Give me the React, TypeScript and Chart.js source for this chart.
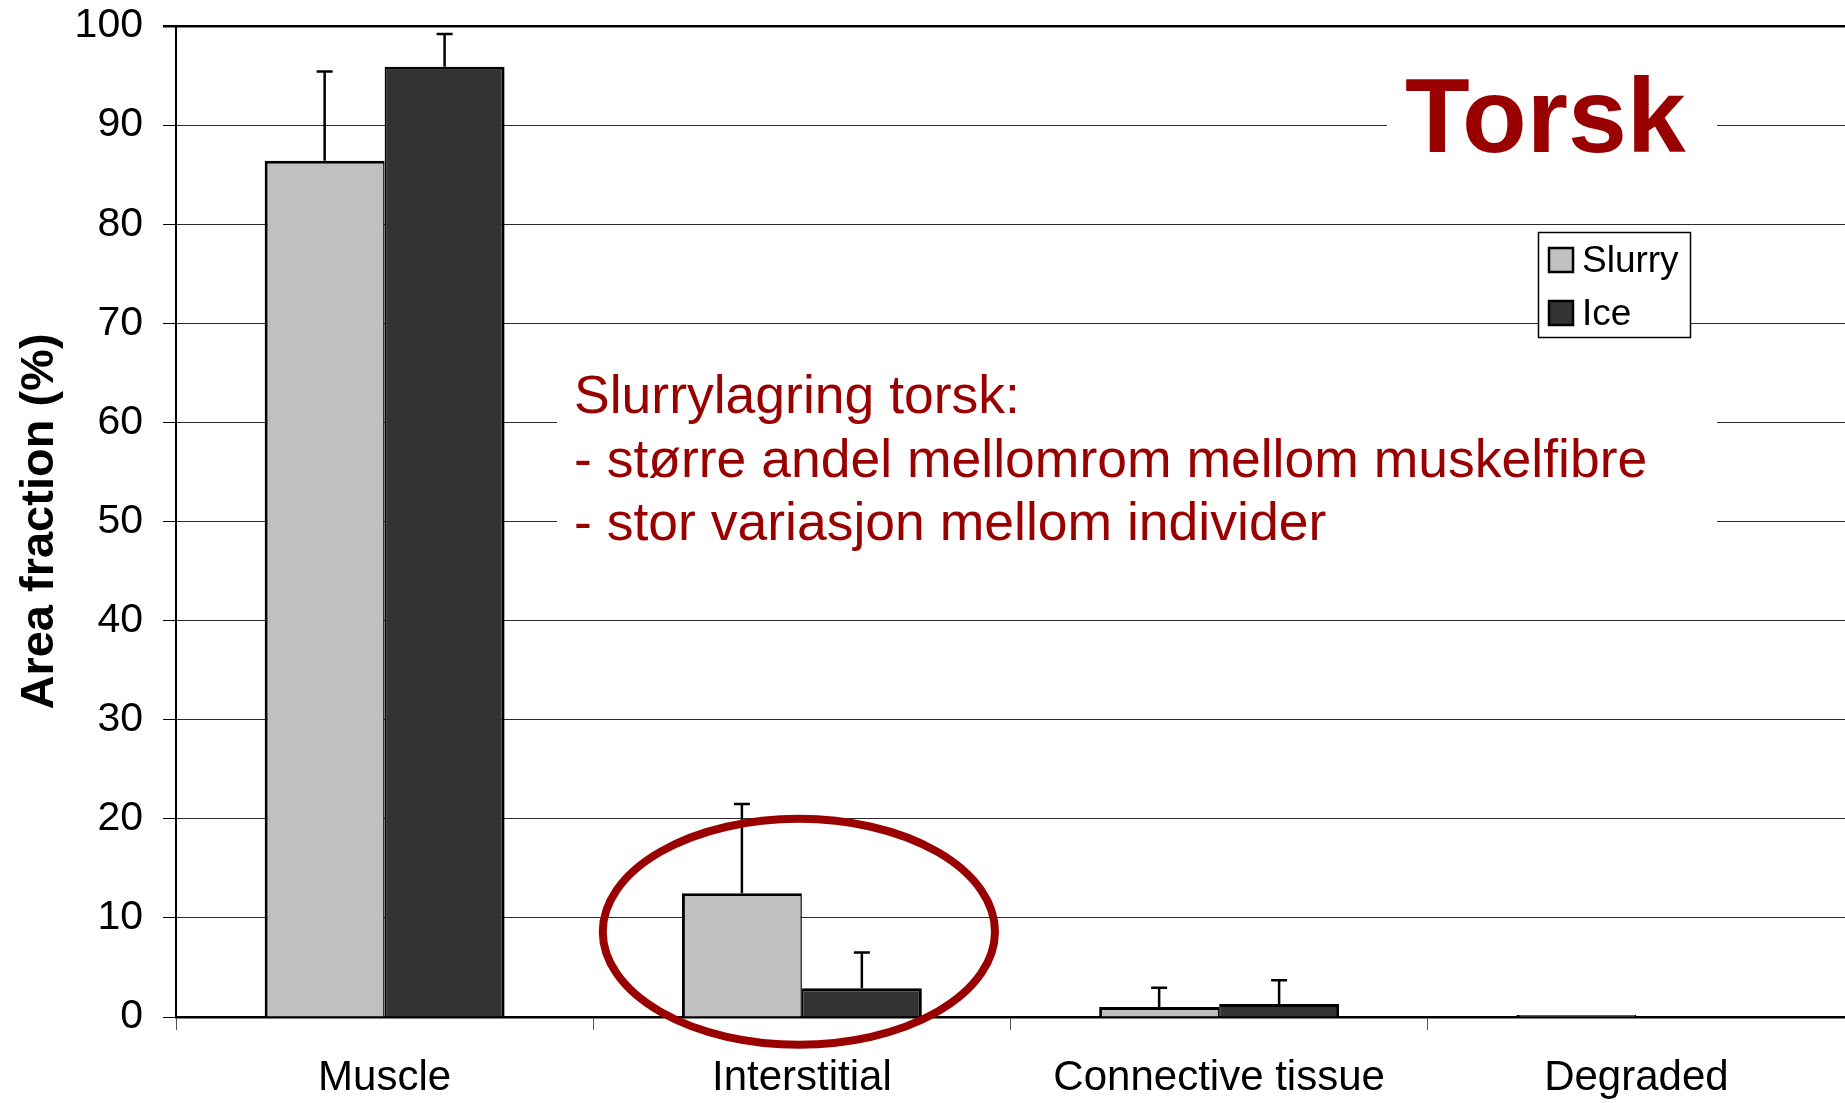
import React, { useEffect, useRef } from 'react';
import { Chart, registerables } from 'chart.js';

Chart.register(...registerables);

const categories = ['Muscle', 'Interstitial', 'Connective tissue', 'Degraded'];
const seriesLabels = ['Slurry', 'Ice'];
const slurryValues = [86.4, 12.5, 1.0, 0.2];
const iceValues = [95.9, 2.9, 1.3, 0];
const slurryErrors = [9.0, 9.0, 1.95, 0];
const iceErrors = [3.3, 3.6, 2.4, 0];
const seriesColors = ['#C0C0C0', '#333333'];
const chartTitle = 'Torsk';
const noteLines = [
  'Slurrylagring torsk:',
  '- større andel mellomrom mellom muskelfibre',
  '- stor variasjon mellom individer',
];
const yAxisTitle = 'Area fraction (%)';
const highlightCategory = 1;

const FONT = '"Liberation Sans", Arial, sans-serif';
const RED = '#990000';

const overlayPlugin = {
  id: 'overlay',
  beforeDatasetsDraw(chart: any) {
    const ctx = chart.ctx;
    ctx.save();
    ctx.fillStyle = '#ffffff';
    ctx.fillRect(1387, 50, 330, 150);
    ctx.fillRect(557, 345, 1160, 230);
    ctx.restore();
  },
  afterDatasetsDraw(chart: any) {
    const ctx = chart.ctx;
    const yScale = chart.scales.y;
    const xScale = chart.scales.x;
    const errs = [slurryErrors, iceErrors];
    ctx.save();
    // error bars
    ctx.strokeStyle = '#000';
    ctx.lineWidth = 2.5;
    chart.data.datasets.forEach((ds: any, i: number) => {
      const meta = chart.getDatasetMeta(i);
      meta.data.forEach((bar: any, j: number) => {
        const e = errs[i][j];
        if (!e) return;
        const v = ds.data[j];
        const yTop = yScale.getPixelForValue(v + e);
        const yBar = yScale.getPixelForValue(v);
        ctx.beginPath();
        ctx.moveTo(bar.x, yBar);
        ctx.lineTo(bar.x, yTop);
        ctx.moveTo(bar.x - 8, yTop);
        ctx.lineTo(bar.x + 8, yTop);
        ctx.stroke();
      });
    });

    // title
    ctx.fillStyle = RED;
    ctx.font = `bold 106px ${FONT}`;
    ctx.textBaseline = 'alphabetic';
    ctx.textAlign = 'left';
    ctx.fillText(chartTitle, 1405, 152);

    // note
    ctx.font = `53.5px ${FONT}`;
    const baselines = [413, 477, 540];
    noteLines.forEach((t, k) => ctx.fillText(t, 574, baselines[k]));

    // legend
    ctx.fillStyle = '#fff';
    ctx.fillRect(1538, 232, 152, 105);
    ctx.strokeStyle = '#000';
    ctx.lineWidth = 1.5;
    ctx.strokeRect(1538.5, 232.5, 152, 105);
    const swY = [248, 301];
    const txY = [272, 325];
    ctx.font = `37px ${FONT}`;
    seriesLabels.forEach((lab, k) => {
      ctx.fillStyle = seriesColors[k];
      ctx.fillRect(1549, swY[k], 24, 24);
      ctx.strokeStyle = '#000';
      ctx.lineWidth = 2.5;
      ctx.strokeRect(1549, swY[k], 24, 24);
      ctx.fillStyle = '#000';
      ctx.fillText(lab, 1582, txY[k]);
    });

    // highlight ellipse
    const catW = (xScale.right - xScale.left) / categories.length;
    const cx = xScale.getPixelForValue(highlightCategory);
    const cy = yScale.getPixelForValue(8.6);
    const ry = yScale.getPixelForValue(0) - yScale.getPixelForValue(11.4);
    ctx.strokeStyle = RED;
    ctx.lineWidth = 8;
    ctx.beginPath();
    ctx.ellipse(cx - 3, cy, catW * 0.47, ry, 0, 0, Math.PI * 2);
    ctx.stroke();
    ctx.restore();
  },
};

export default function App() {
  const ref = useRef<HTMLCanvasElement>(null);
  useEffect(() => {
    if (!ref.current) return;
    const chart = new Chart(ref.current, {
      type: 'bar',
      data: {
        labels: categories,
        datasets: [
          {
            label: seriesLabels[0],
            data: slurryValues,
            backgroundColor: seriesColors[0],
            borderColor: '#000',
            borderWidth: { top: 3, left: 3, right: 1.5, bottom: 0 },
            barPercentage: 1,
            categoryPercentage: 0.575,
          },
          {
            label: seriesLabels[1],
            data: iceValues,
            backgroundColor: seriesColors[1],
            borderColor: '#000',
            borderWidth: { top: 3, left: 1.5, right: 3, bottom: 0 },
            barPercentage: 1,
            categoryPercentage: 0.575,
          },
        ],
      },
      options: {
        responsive: false,
        animation: false,
        devicePixelRatio: 1,
        layout: { padding: { top: 26, right: 0, left: 0, bottom: 0 } },
        plugins: {
          legend: { display: false },
          tooltip: { enabled: false },
        },
        scales: {
          x: {
            grid: {
              offset: true,
              drawOnChartArea: false,
              drawTicks: true,
              tickLength: 13,
              color: '#555',
              lineWidth: 1,
            },
            border: { display: true, color: '#000', width: 2.5 },
            ticks: {
              font: { family: FONT, size: 42 },
              color: '#000',
              padding: 23,
              maxRotation: 0,
            },
            afterFit: (s: any) => {
              s.height = 86;
              s.paddingLeft = 0;
              s.paddingRight = 0;
            },
          },
          y: {
            min: 0,
            max: 100,
            ticks: {
              stepSize: 10,
              font: { family: FONT, size: 41 },
              color: '#000',
              padding: 20,
            },
            grid: {
              color: (c: any) => (c.tick && c.tick.value === 100 ? '#000' : '#2a2a2a'),
              lineWidth: (c: any) => (c.tick && c.tick.value === 100 ? 2.5 : 1),
              tickLength: 13,
              tickColor: '#000',
            },
            border: { display: true, color: '#000', width: 2 },
            title: {
              display: true,
              text: yAxisTitle,
              font: { family: FONT, size: 47, weight: 'bold' },
              color: '#000',
              padding: { top: 12, bottom: 0 },
            },
            afterFit: (s: any) => {
              s.width = 176;
              s.paddingTop = 0;
              s.paddingBottom = 0;
            },
          },
        },
      },
      plugins: [overlayPlugin],
    });
    return () => chart.destroy();
  }, []);
  return (
    <div style={{ position: 'absolute', left: 0, top: 0, width: 1845, height: 1103, background: '#fff' }}>
      <canvas ref={ref} width={1845} height={1103} />
    </div>
  );
}
